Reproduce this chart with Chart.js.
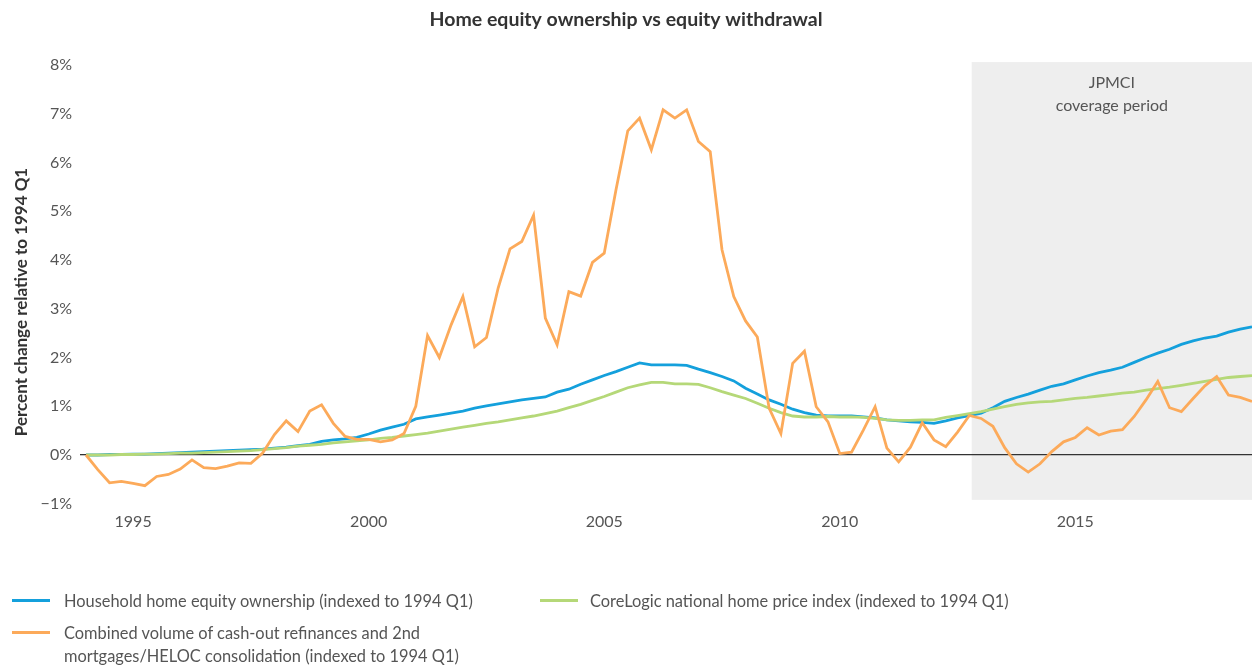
<!DOCTYPE html>
<html>
<head>
<meta charset="utf-8">
<script src="https://cdn.jsdelivr.net/npm/chart.js@4/dist/chart.umd.min.js"></script>
<style>
  body { margin: 0; background: #fff; }
  #wrap { position: relative; width: 1252px; height: 665px; font-family: Lato, "Open Sans", sans-serif; }
  .leg { position: absolute; color: #555; font-size: 16.4px; line-height: 23px; }
  .sw { position: absolute; height: 3px; width: 38px; }
</style>
</head>
<body>
<div id="wrap">
  <canvas id="myChart" width="1252" height="665"></canvas>
  <div class="sw" style="left:12px;top:599px;background:#14a0dc"></div>
  <div class="leg" style="left:64px;top:589px">Household home equity ownership (indexed to 1994 Q1)</div>
  <div class="sw" style="left:540px;top:599px;background:#b5d878"></div>
  <div class="leg" style="left:590px;top:589px">CoreLogic national home price index (indexed to 1994 Q1)</div>
  <div class="sw" style="left:12px;top:631px;background:#fcaa5a"></div>
  <div class="leg" style="left:64px;top:621px">Combined volume of cash-out refinances and 2nd<br>mortgages/HELOC consolidation (indexed to 1994 Q1)</div>
</div>
<script>
// quarters 1994 Q1 .. 2018 Q4
const firstYear = 1994;
const lastYear = 2018;
const quarters = [];
for (let y = firstYear; y <= lastYear; y++) {
  for (let q = 1; q <= 4; q++) quarters.push(y + ' Q' + q);
}
const xTickLabels = ['1995', '2000', '2005', '2010', '2015'];
const yTicks = [-1, 0, 1, 2, 3, 4, 5, 6, 7, 8];

// percent change relative to 1994 Q1
const equityOwnership = [
  0, 0.00, 0.01, 0.01, 0.02, 0.02, 0.03, 0.04, 0.05, 0.06,
  0.07, 0.08, 0.09, 0.10, 0.11, 0.12, 0.14, 0.16, 0.19, 0.22,
  0.28, 0.31, 0.33, 0.36, 0.43, 0.51, 0.57, 0.63, 0.74, 0.78,
  0.82, 0.86, 0.90, 0.96, 1.01, 1.05, 1.09, 1.13, 1.16, 1.19,
  1.29, 1.35, 1.45, 1.54, 1.63, 1.71, 1.80, 1.89, 1.85, 1.85,
  1.85, 1.84, 1.76, 1.69, 1.61, 1.52, 1.37, 1.25, 1.13, 1.04,
  0.94, 0.87, 0.82, 0.80, 0.80, 0.80, 0.78, 0.76, 0.72, 0.70,
  0.68, 0.67, 0.65, 0.70, 0.76, 0.81, 0.86, 0.97, 1.10, 1.18,
  1.25, 1.33, 1.41, 1.46, 1.54, 1.62, 1.69, 1.74, 1.80, 1.90,
  2.00, 2.09, 2.17, 2.27, 2.34, 2.40, 2.44, 2.52, 2.58, 2.63
];
const homePriceIndex = [
  0, 0.00, 0.00, 0.01, 0.01, 0.02, 0.02, 0.03, 0.04, 0.04,
  0.05, 0.06, 0.07, 0.08, 0.09, 0.11, 0.13, 0.15, 0.18, 0.20,
  0.22, 0.25, 0.27, 0.29, 0.31, 0.34, 0.36, 0.39, 0.42, 0.45,
  0.49, 0.53, 0.57, 0.61, 0.65, 0.68, 0.72, 0.76, 0.80, 0.85,
  0.90, 0.97, 1.04, 1.12, 1.20, 1.29, 1.38, 1.44, 1.49, 1.49,
  1.46, 1.46, 1.45, 1.38, 1.30, 1.23, 1.16, 1.06, 0.96, 0.87,
  0.80, 0.78, 0.78, 0.79, 0.78, 0.78, 0.77, 0.75, 0.72, 0.71,
  0.71, 0.72, 0.72, 0.77, 0.81, 0.85, 0.89, 0.94, 0.99, 1.04,
  1.07, 1.09, 1.10, 1.13, 1.16, 1.18, 1.21, 1.24, 1.27, 1.29,
  1.33, 1.36, 1.39, 1.43, 1.47, 1.51, 1.55, 1.59, 1.61, 1.63
];
const cashOutVolume = [
  0, -0.30, -0.57, -0.54, -0.58, -0.63, -0.44, -0.40, -0.29, -0.10,
  -0.26, -0.28, -0.23, -0.16, -0.17, 0.04, 0.42, 0.70, 0.48, 0.90,
  1.03, 0.65, 0.38, 0.32, 0.32, 0.27, 0.31, 0.44, 1.00, 2.45,
  2.00, 2.67, 3.25, 2.22, 2.41, 3.43, 4.23, 4.38, 4.92, 2.81,
  2.26, 3.35, 3.26, 3.95, 4.14, 5.44, 6.65, 6.91, 6.26, 7.08,
  6.91, 7.08, 6.43, 6.22, 4.21, 3.25, 2.75, 2.42, 0.96, 0.44,
  1.88, 2.13, 0.99, 0.68, 0.03, 0.06, 0.51, 0.99, 0.14, -0.14,
  0.16, 0.66, 0.31, 0.17, 0.47, 0.81, 0.75, 0.59, 0.15, -0.18,
  -0.35, -0.18, 0.07, 0.27, 0.36, 0.56, 0.41, 0.49, 0.52, 0.79,
  1.13, 1.51, 0.97, 0.89, 1.16, 1.42, 1.61, 1.23, 1.18, 1.10
];

// JPMCI coverage period (quarter index where shading starts, value range)
const coverageStart = 75.2;
const coverageTop = 8.06;
const coverageBottom = -0.92;

const fontFamily = 'Lato, "Open Sans", sans-serif';

const coveragePlugin = {
  id: 'coverage',
  beforeDraw(chart) {
    const { ctx, chartArea, scales } = chart;
    const x0 = scales.x.getPixelForValue(coverageStart);
    const y0 = scales.y.getPixelForValue(coverageTop);
    const y1 = scales.y.getPixelForValue(coverageBottom);
    ctx.save();
    ctx.fillStyle = '#eeeeee';
    ctx.fillRect(x0, y0, chartArea.right - x0, y1 - y0);
    ctx.fillStyle = '#555';
    ctx.font = '16px ' + fontFamily;
    ctx.textAlign = 'center';
    ctx.textBaseline = 'middle';
    const cx = (x0 + chartArea.right) / 2;
    ctx.fillText('JPMCI', cx, y0 + 21);
    ctx.fillText('coverage period', cx, y0 + 44);
    ctx.restore();
  },
  afterDraw(chart) {
    // y axis title
    const ctx = chart.ctx;
    ctx.save();
    ctx.translate(22, 302);
    ctx.rotate(-Math.PI / 2);
    ctx.fillStyle = '#333';
    ctx.font = 'bold 17px ' + fontFamily;
    ctx.textAlign = 'center';
    ctx.textBaseline = 'middle';
    ctx.fillText('Percent change relative to 1994 Q1', 0, 0);
    ctx.restore();
  }
};

const zeroColor = c => (c.tick && c.tick.value === 0 ? '#333' : 'rgba(0,0,0,0)');

const ctx = document.getElementById('myChart').getContext('2d');
const myChart = new Chart(ctx, {
  type: 'line',
  data: {
    labels: quarters,
    datasets: [
      {
        label: 'Household home equity ownership (indexed to 1994 Q1)',
        data: equityOwnership,
        borderColor: '#14a0dc',
        order: 3
      },
      {
        label: 'CoreLogic national home price index (indexed to 1994 Q1)',
        data: homePriceIndex,
        borderColor: '#b5d878',
        order: 2
      },
      {
        label: 'Combined volume of cash-out refinances and 2nd mortgages/HELOC consolidation (indexed to 1994 Q1)',
        data: cashOutVolume,
        borderColor: '#fcaa5a',
        order: 1
      }
    ]
  },
  options: {
    responsive: false,
    animation: false,
    elements: {
      point: { radius: 0 },
      line: { borderWidth: 2.8, tension: 0, fill: false }
    },
    layout: { padding: { left: 0, right: 0, top: 0, bottom: 121.25 } },
    plugins: {
      legend: { display: false },
      tooltip: { enabled: false },
      title: {
        display: true,
        text: 'Home equity ownership vs equity withdrawal',
        color: '#333',
        font: { family: fontFamily, size: 19.5, weight: 'bold' },
        padding: { top: 8, bottom: 33.6 }
      }
    },
    scales: {
      x: {
        type: 'category',
        offset: false,
        grid: { display: false, drawTicks: false },
        border: { display: false },
        ticks: {
          autoSkip: false,
          maxRotation: 0,
          padding: 8,
          color: '#555',
          font: { family: fontFamily, size: 16 },
          callback: function (v, i) {
            const lab = quarters[i];
            const yr = lab.slice(0, 4);
            return lab.endsWith('Q1') && xTickLabels.includes(yr) ? yr : null;
          }
        },
        afterFit: s => { s.height = 40; }
      },
      y: {
        min: yTicks[0],
        max: yTicks[yTicks.length - 1],
        grid: { color: zeroColor, tickColor: zeroColor, lineWidth: 1.3, tickLength: 6 },
        border: { display: false },
        ticks: {
          stepSize: 1,
          padding: 8,
          color: '#555',
          font: { family: fontFamily, size: 16 },
          callback: v => (v < 0 ? '\u2212' + Math.abs(v) : v) + '%'
        },
        afterFit: s => { s.width = 86; }
      }
    }
  },
  plugins: [coveragePlugin]
});
</script>
</body>
</html>
